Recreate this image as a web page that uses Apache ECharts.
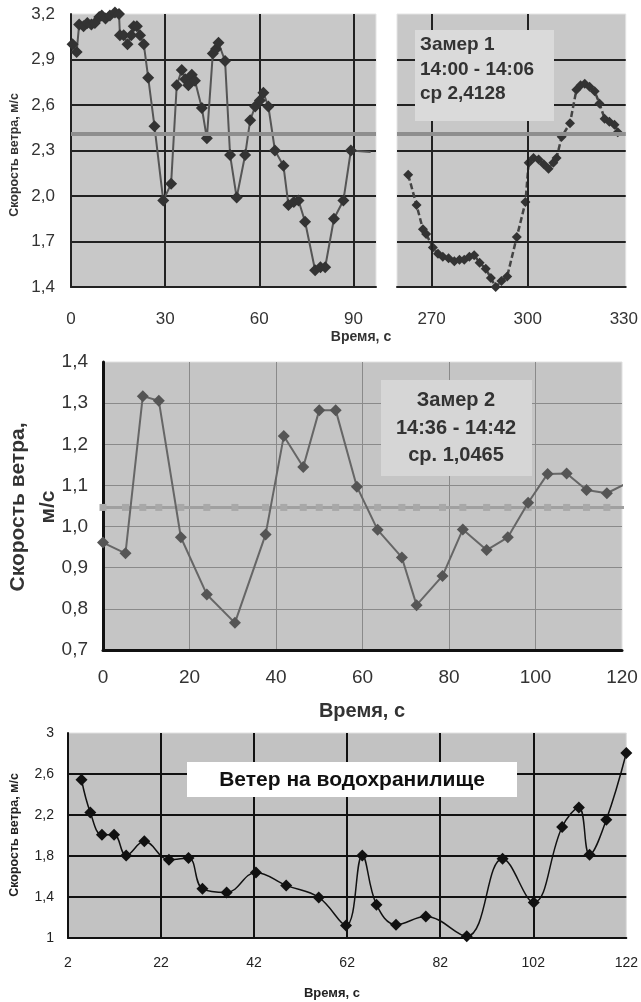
<!DOCTYPE html>
<html><head><meta charset="utf-8">
<script src="https://cdn.jsdelivr.net/npm/echarts@6/dist/echarts.min.js"></script>
<style>html,body{margin:0;padding:0;background:#fff}#c{width:641px;height:1002px}</style>
</head><body><div id="c"></div><script>
const FONT = '"Liberation Sans", Arial, sans-serif';

// ---- Panel 1 (Замер 1), left part 0..97 s ----
const p1LeftTime = [0.5,1.8,2.6,4.0,5.2,6.5,7.6,9.0,9.8,11.0,12.4,14.0,15.3,15.6,16.8,18.0,19.2,20.0,21.0,22.0,23.2,24.6,26.6,29.4,31.9,33.7,35.3,36.4,37.4,38.5,39.5,41.7,43.3,45.2,46.2,47.0,49.1,50.7,52.8,55.5,57.1,58.7,60.2,61.3,62.9,65.0,67.7,69.3,71.0,72.5,74.6,77.8,79.5,81.0,83.8,86.8,89.2];
const p1LeftSpeed = [3.00,2.95,3.13,3.12,3.14,3.13,3.14,3.18,3.19,3.17,3.19,3.21,3.20,3.06,3.06,3.00,3.06,3.12,3.12,3.06,3.00,2.78,2.46,1.97,2.08,2.73,2.83,2.77,2.73,2.80,2.76,2.58,2.38,2.94,2.97,3.01,2.89,2.27,1.99,2.27,2.50,2.59,2.63,2.68,2.59,2.30,2.20,1.94,1.96,1.97,1.83,1.51,1.53,1.53,1.85,1.97,2.30];
const p1LeftEnd = [95.5, 2.29];
// right part 259..331 s
const p1RightTime = [262.7,265.3,267.3,268.3,270.4,272.0,273.5,275.3,277.1,278.7,280.2,281.8,283.3,285.0,286.9,288.5,290.0,291.8,293.6,296.6,299.3,300.3,301.8,303.4,305.0,306.5,308.0,309.0,310.6,313.2,315.2,316.5,317.8,319.3,320.9,322.4,324.0,325.5,327.1,328.1];
const p1RightSpeed = [2.14,1.94,1.78,1.75,1.66,1.62,1.60,1.59,1.57,1.58,1.58,1.60,1.61,1.56,1.52,1.46,1.40,1.44,1.47,1.73,1.96,2.22,2.25,2.24,2.21,2.18,2.22,2.25,2.39,2.48,2.70,2.73,2.74,2.72,2.69,2.61,2.51,2.49,2.47,2.42];
const p1Mean = 2.4128;
const p1RightTicks = [270, 300, 330];
const p1Text = ['Замер 1', '14:00 - 14:06', 'ср 2,4128'];

// ---- Panel 2 (Замер 2) ----
const p2Time = [0,5.2,9.2,12.9,18.0,24.0,30.5,37.6,41.8,46.3,50.0,53.8,58.7,63.5,69.1,72.5,78.5,83.2,88.7,93.6,98.3,102.8,107.2,111.8,116.5];
const p2Speed = [0.961,0.935,1.317,1.306,0.974,0.835,0.766,0.981,1.220,1.145,1.283,1.283,1.097,0.992,0.925,0.809,0.880,0.993,0.943,0.974,1.058,1.128,1.129,1.089,1.081];
const p2End = [121, 1.105];
const p2Mean = 1.0465;
const p2Text = ['Замер 2', '14:36 - 14:42', 'ср. 1,0465'];

// ---- Panel 3 (Ветер на водохранилище) ----
const p3Time = [4.9,6.8,9.3,11.9,14.5,18.4,23.7,27.9,30.9,36.1,42.4,48.9,55.9,61.75,65.25,68.3,72.5,78.9,87.7,95.4,102.1,108.2,111.8,114.1,117.7,122];
const p3Speed = [2.544,2.225,2.008,2.008,1.806,1.943,1.764,1.780,1.480,1.445,1.640,1.513,1.396,1.123,1.806,1.325,1.130,1.210,1.016,1.774,1.347,2.083,2.274,1.813,2.154,2.805];
const p3Text = 'Ветер на водохранилище';

const yTitle = 'Скорость ветра, м/с';
const xTitle = 'Время, с';

const comma1 = v => v.toFixed(1).replace('.', ',');
const commaShort = v => String(Math.round(v * 10) / 10).replace('.', ',');
const pairs = (xs, ys) => xs.map((x, i) => [x, ys[i]]);

const chart = echarts.init(document.getElementById('c'));

const gridLine = (c, w) => ({ show: true, showMaxLine: false, lineStyle: { color: c, width: w } });

const option = {
  animation: false,
  backgroundColor: '#ffffff',
  grid: [
    { left: 71, top: 14, width: 305, height: 273, show: true, backgroundColor: '#c8c8c8', borderColor: '#e4e4e4', borderWidth: 1 },
    { left: 397, top: 14, width: 231, height: 273, show: true, backgroundColor: '#c8c8c8', borderColor: '#e4e4e4', borderWidth: 1 },
    { left: 103, top: 362, width: 519, height: 288, show: true, backgroundColor: '#c5c5c5', borderColor: '#e0e0e0', borderWidth: 1 },
    { left: 68, top: 733, width: 559, height: 205, show: true, backgroundColor: '#c2c2c2', borderColor: '#e0e0e0', borderWidth: 1 }
  ],
  xAxis: [
    { gridIndex: 0, type: 'value', min: 0, max: 97.2, interval: 30,
      axisLine: { show: true, lineStyle: { color: '#222', width: 2 } }, axisTick: { show: false },
      splitLine: gridLine('#222', 2),
      axisLabel: { margin: 24, fontSize: 17, color: '#333', fontFamily: FONT, showMaxLabel: false,
        formatter: v => (Math.abs(v % 30) < 1e-6 ? String(v) : '') } },
    { gridIndex: 1, type: 'value', min: 259.2, max: 330.6,
      axisLine: { show: true, lineStyle: { color: '#222', width: 2 } }, axisTick: { show: false },
      splitLine: { show: false },
      axisLabel: { customValues: p1RightTicks, margin: 24, fontSize: 17, color: '#333', fontFamily: FONT } },
    { gridIndex: 2, type: 'value', min: 0, max: 120, interval: 20,
      axisLine: { show: true, lineStyle: { color: '#111', width: 3 } }, axisTick: { show: false },
      splitLine: gridLine('#8a8a8a', 1),
      axisLabel: { margin: 18, fontSize: 19, color: '#333', fontFamily: FONT } },
    { gridIndex: 3, type: 'value', min: 2, max: 122, interval: 20,
      axisLine: { show: true, lineStyle: { color: '#111', width: 2 } }, axisTick: { show: false },
      splitLine: gridLine('#111', 2),
      axisLabel: { margin: 18, fontSize: 14, color: '#222', fontFamily: FONT } }
  ],
  yAxis: [
    { gridIndex: 0, type: 'value', min: 1.4, max: 3.2, interval: 0.3,
      axisLine: { show: true, lineStyle: { color: '#222', width: 2 } }, axisTick: { show: false },
      splitLine: gridLine('#222', 2),
      axisLabel: { margin: 16, fontSize: 17, color: '#333', fontFamily: FONT, formatter: comma1 } },
    { gridIndex: 1, type: 'value', min: 1.4, max: 3.2, interval: 0.3,
      axisLine: { show: false }, axisTick: { show: false },
      splitLine: gridLine('#222', 2),
      axisLabel: { show: false } },
    { gridIndex: 2, type: 'value', min: 0.7, max: 1.4, interval: 0.1,
      axisLine: { show: true, lineStyle: { color: '#111', width: 3 } }, axisTick: { show: false },
      splitLine: gridLine('#8a8a8a', 1),
      axisLabel: { margin: 15, fontSize: 19, color: '#333', fontFamily: FONT, formatter: comma1 } },
    { gridIndex: 3, type: 'value', min: 1, max: 3, interval: 0.4,
      axisLine: { show: true, lineStyle: { color: '#111', width: 2 } }, axisTick: { show: false },
      splitLine: gridLine('#111', 2),
      axisLabel: { margin: 14, fontSize: 14, color: '#222', fontFamily: FONT, formatter: commaShort } }
  ],
  series: [
    { type: 'line', xAxisIndex: 0, yAxisIndex: 0, clip: false, z: 3,
      data: pairs(p1LeftTime, p1LeftSpeed).concat([{ value: p1LeftEnd, symbol: 'none' }]),
      symbol: 'diamond', symbolSize: 12, itemStyle: { color: '#333' },
      lineStyle: { color: '#555', width: 2 },
      markLine: { silent: true, symbol: 'none', label: { show: false }, animation: false,
        lineStyle: { color: '#8e8e8e', width: 4, type: 'solid' }, data: [{ yAxis: p1Mean }] } },
    { type: 'line', xAxisIndex: 1, yAxisIndex: 1, clip: false, z: 3,
      data: pairs(p1RightTime, p1RightSpeed),
      symbol: 'diamond', symbolSize: 10, itemStyle: { color: '#333' },
      lineStyle: { color: '#444', width: 2.5, type: [6, 3] },
      markLine: { silent: true, symbol: 'none', label: { show: false }, animation: false,
        data: [
          { xAxis: 270, lineStyle: { color: '#222', width: 2, type: 'solid' } },
          { xAxis: 300, lineStyle: { color: '#222', width: 2, type: 'solid' } },
          { yAxis: p1Mean, lineStyle: { color: '#8e8e8e', width: 4, type: 'solid' } }
        ] } },
    { type: 'line', xAxisIndex: 2, yAxisIndex: 2, clip: false, z: 2,
      data: p2Time.map(t => [t, p2Mean]).concat([{ value: [p2End[0], p2Mean], symbol: 'none' }]),
      symbol: 'rect', symbolSize: 7, itemStyle: { color: '#a8a8a8' },
      lineStyle: { color: '#a0a0a0', width: 3 } },
    { type: 'line', xAxisIndex: 2, yAxisIndex: 2, clip: false, z: 3,
      data: pairs(p2Time, p2Speed).concat([{ value: p2End, symbol: 'none' }]),
      symbol: 'diamond', symbolSize: 12, itemStyle: { color: '#555' },
      lineStyle: { color: '#666', width: 2 } },
    { type: 'line', xAxisIndex: 3, yAxisIndex: 3, clip: false, z: 3, smooth: 0.4,
      data: pairs(p3Time, p3Speed),
      symbol: 'diamond', symbolSize: 12, itemStyle: { color: '#111' },
      lineStyle: { color: '#111', width: 1.5 } }
  ],
  graphic: [
    // titles
    { type: 'text', x: 15, y: 155, rotation: Math.PI / 2, z: 10,
      style: { text: yTitle, align: 'center', verticalAlign: 'middle', textAlign: 'center', textVerticalAlign: 'middle', font: 'bold 12.5px ' + FONT, fill: '#333' } },
    { type: 'text', x: 361, y: 337, z: 10,
      style: { text: xTitle, align: 'center', verticalAlign: 'middle', textAlign: 'center', textVerticalAlign: 'middle', font: 'bold 14px ' + FONT, fill: '#333' } },
    { type: 'text', x: 33, y: 507, rotation: Math.PI / 2, z: 10,
      style: { text: 'Скорость ветра,\nм/с', lineHeight: 30, align: 'center', verticalAlign: 'middle', textAlign: 'center', textVerticalAlign: 'middle', font: 'bold 21px ' + FONT, fill: '#333' } },
    { type: 'text', x: 362, y: 711, z: 10,
      style: { text: xTitle, align: 'center', verticalAlign: 'middle', textAlign: 'center', textVerticalAlign: 'middle', font: 'bold 20px ' + FONT, fill: '#333' } },
    { type: 'text', x: 15, y: 835, rotation: Math.PI / 2, z: 10,
      style: { text: yTitle, align: 'center', verticalAlign: 'middle', textAlign: 'center', textVerticalAlign: 'middle', font: 'bold 12.5px ' + FONT, fill: '#222' } },
    { type: 'text', x: 332, y: 993, z: 10,
      style: { text: xTitle, align: 'center', verticalAlign: 'middle', textAlign: 'center', textVerticalAlign: 'middle', font: 'bold 13px ' + FONT, fill: '#222' } },
    // annotation boxes
    { type: 'rect', shape: { x: 415, y: 30, width: 139, height: 91 }, z: 20, style: { fill: '#dadada' } },
    { type: 'text', x: 420, y: 33, z: 21,
      style: { text: p1Text.join('\n'), lineHeight: 24.5, align: 'left', verticalAlign: 'top', textAlign: 'left', textVerticalAlign: 'top', font: 'bold 19px ' + FONT, fill: '#333' } },
    { type: 'rect', shape: { x: 381, y: 380, width: 151, height: 96 }, z: 20, style: { fill: '#d6d6d6' } },
    { type: 'text', x: 456, y: 428, z: 21,
      style: { text: p2Text.join('\n'), lineHeight: 27.5, align: 'center', verticalAlign: 'middle', textAlign: 'center', textVerticalAlign: 'middle', font: 'bold 20px ' + FONT, fill: '#333' } },
    { type: 'rect', shape: { x: 187, y: 762, width: 330, height: 35 }, z: 20, style: { fill: '#ffffff' } },
    { type: 'text', x: 352, y: 780, z: 21,
      style: { text: p3Text, align: 'center', verticalAlign: 'middle', textAlign: 'center', textVerticalAlign: 'middle', font: 'bold 21px ' + FONT, fill: '#111' } }
  ]
};
chart.setOption(option);
</script></body></html>
